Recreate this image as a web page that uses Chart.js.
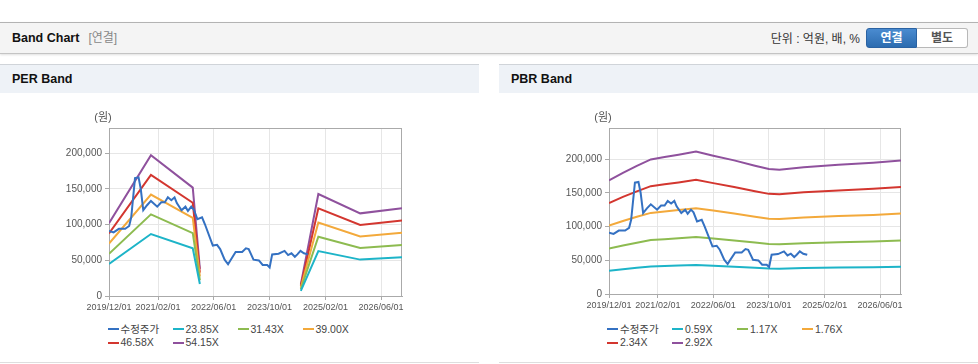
<!DOCTYPE html>
<html>
<head>
<meta charset="utf-8">
<script src="https://cdn.jsdelivr.net/npm/chart.js@4"></script>
<style>
  body { margin: 0; width: 978px; height: 364px; background: #fff; position: relative; overflow: hidden;
         font-family: "Liberation Sans", "Noto Sans CJK KR", sans-serif; }
  .top { position: absolute; left: 0; top: 22px; width: 978px; height: 30px; background: #f4f4f4;
         border-top: 1px solid #b3b3b3; border-bottom: 1px solid #c4c4c4; box-shadow: 0 1px 2px rgba(0,0,0,0.12); }
  .top .title { position: absolute; left: 12px; top: 0; line-height: 31px; font-size: 12.5px; font-weight: bold; color: #111; }
  .top .title span { font-weight: normal; color: #888; margin-left: 9px; font-size: 12px; }
  .top .unit { position: absolute; right: 118px; top: 0; line-height: 32px; font-size: 12px; color: #333; }
  .btn { position: absolute; top: 5px; width: 51px; height: 20px; box-sizing: border-box; text-align: center;
         line-height: 18px; font-size: 12px; font-weight: bold; }
  .btn.on { left: 866px; background: linear-gradient(#4a8bd0, #2c6cb0); border: 1px solid #2a62a2; color: #fff; border-radius: 3px 0 0 3px; }
  .btn.off { left: 917px; background: #fff; border: 1px solid #b8b8b8; border-left: none; color: #555; border-radius: 0 3px 3px 0; }
  .ph { position: absolute; top: 64px; width: 479px; height: 28px; background: #eef2f7; border-top: 1px solid #d0d4d9;
        font-size: 12.5px; font-weight: bold; color: #111; line-height: 29px; box-sizing: content-box; }
  .ph span { margin-left: 12px; }
  .pb { position: absolute; top: 362px; width: 479px; height: 0; border-top: 1px solid #dedede; }
  canvas { position: absolute; top: 95px; }
  .legend { position: absolute; top: 323px; width: 270px; font-size: 10.5px; color: #444; }
  .legend .item { display: inline-block; width: 65px; height: 13.4px; line-height: 13.4px; white-space: nowrap; }
  .legend .mk { display: inline-block; width: 11px; height: 2px; vertical-align: middle; margin-right: 2px; position: relative; top: -1px; }
</style>
</head>
<body>
<div class="top">
  <div class="title">Band Chart<span>[연결]</span></div>
  <div class="unit">단위 : 억원, 배, %</div>
  <div class="btn on">연결</div>
  <div class="btn off">별도</div>
</div>
<div class="ph" style="left:0"><span>PER Band</span></div>
<div class="ph" style="left:499px"><span>PBR Band</span></div>
<div class="pb" style="left:0"></div>
<div class="pb" style="left:499px"></div>
<canvas id="per" width="479" height="225" style="left:0"></canvas>
<canvas id="pbr" width="489" height="225" style="left:489px"></canvas>
<div class="legend" id="perLegend" style="left:107.5px"></div>
<div class="legend" id="pbrLegend" style="left:607px"></div>
<script>
const xTickLabels = ['2019/12/01', '2021/02/01', '2022/06/01', '2023/10/01', '2025/02/01', '2026/06/01'];
const xStart = '2019/12/01';
const xEnd = '2026/12/01';
const yTicks = [0, 50000, 100000, 150000, 200000];

// 수정주가
const priceDates = ['2019/12/01', '2020/01/10', '2020/02/25', '2020/04/20', '2020/05/25', '2020/06/12', '2020/07/15',
  '2020/08/15', '2020/09/03', '2020/09/25', '2020/10/28', '2020/12/01', '2021/01/25', '2021/03/01', '2021/04/01',
  '2021/04/28', '2021/05/28', '2021/06/25', '2021/07/15', '2021/08/25', '2021/09/28', '2021/10/20', '2021/11/18',
  '2021/12/10', '2022/01/10', '2022/02/20', '2022/03/18', '2022/05/25', '2022/07/01', '2022/07/28', '2022/09/05',
  '2022/10/05', '2022/10/25', '2022/12/10', '2023/02/05', '2023/03/10', '2023/04/03', '2023/05/15', '2023/07/01',
  '2023/08/03', '2023/09/12', '2023/10/03', '2023/10/25', '2023/12/20', '2024/02/10', '2024/03/12', '2024/04/10',
  '2024/05/10', '2024/06/01', '2024/06/28', '2024/07/28', '2024/09/01'];
const priceValues = [91000, 89000, 94000, 94000, 98000, 110000, 165000,
  166000, 150000, 120000, 127000, 133000, 125000, 131000, 131000,
  138000, 134000, 138000, 130000, 120000, 125000, 119000, 125000,
  121000, 107500, 110000, 100000, 70500, 71500, 65600, 50800,
  44400, 49800, 61600, 61600, 66600, 65600, 50800, 49800,
  43400, 43400, 40000, 58200, 59200, 63100, 57200, 59700,
  54800, 58200, 63100, 59700, 58200];

// PER band
const perLabels = ['23.85X', '31.43X', '39.00X', '46.58X', '54.15X'];
const perDates = ['2019/12/01', '2020/12/01', '2021/12/01', '2022/02/01', '2023/01/01', '2024/07/01', '2024/12/01', '2025/12/01', '2026/12/01'];
const per2385 = [44800, 86700, 66800, 16700, null, 7200, 62800, 50900, 54100];
const per3143 = [59100, 114200, 88000, 22000, null, 9400, 82800, 67100, 71300];
const per3900 = [73300, 141800, 109200, 27300, null, 11700, 102800, 83300, 88500];
const per4658 = [87600, 169300, 130400, 32600, null, 14000, 122700, 99400, 105700];
const per5415 = [101800, 196800, 151600, 37900, null, 16200, 142700, 115600, 122900];

// PBR band
const pbrLabels = ['0.59X', '1.17X', '1.76X', '2.34X', '2.92X'];
const pbrDates = ['2019/12/01', '2020/04/01', '2020/08/01', '2020/12/01', '2021/04/01', '2021/08/01', '2022/01/01', '2022/06/01',
  '2022/12/01', '2023/06/01', '2023/10/01', '2024/01/01', '2024/08/01', '2025/06/01', '2026/04/01', '2026/12/01'];
const pbr059 = [34400, 36700, 38800, 40700, 41400, 42100, 43100, 41800, 40400, 38800, 37800, 37600, 38400, 39100, 39700, 40400];
const pbr117 = [67400, 72000, 76100, 79900, 81300, 82700, 84600, 82100, 79300, 76200, 74200, 73800, 75300, 76800, 77900, 79200];
const pbr176 = [101400, 108200, 114400, 120200, 122300, 124400, 127200, 123600, 119300, 114600, 111600, 111100, 113300, 115500, 117200, 119200];
const pbr234 = [134800, 143900, 152100, 159800, 162600, 165400, 169200, 164300, 158700, 152300, 148400, 147700, 150700, 153500, 155800, 158400];
const pbr292 = [168200, 179600, 189800, 199400, 202900, 206400, 211100, 205000, 198000, 190100, 185100, 184300, 188000, 191600, 194500, 197700];

const FONT = '"Liberation Sans", "Noto Sans CJK KR", sans-serif';
const priceColor = '#3471c2';
const bandColors = ['#1db4c8', '#8dbb50', '#f3a93b', '#d3362f', '#8f519d'];

const toTime = (s) => {
  const [y, m, d] = s.split('/').map(Number);
  return Date.UTC(y, m - 1, d);
};
const points = (dates, values) => dates.map((d, i) => ({ x: toTime(d), y: values[i] }));

// frame round the plot + (원) title
const frame = {
  id: 'frame',
  beforeDatasetsDraw(chart) {
    const { ctx, chartArea: a } = chart;
    ctx.save();
    ctx.strokeStyle = '#aaa';
    ctx.lineWidth = 1;
    ctx.strokeRect(Math.round(a.left) + 0.5, Math.round(a.top) + 0.5, Math.round(a.right - a.left) - 1, Math.round(a.bottom - a.top));
    ctx.fillStyle = '#555';
    ctx.font = '11px ' + FONT;
    ctx.textAlign = 'center';
    ctx.textBaseline = 'middle';
    ctx.fillText('(원)', a.left - 6, a.top - 10.5);
    ctx.restore();
  }
};

const makeChart = (id, legendId, bandDates, bands, labels, yMax, yWidth, padBottom) => {
  const datasets = [{ label: '수정주가', data: points(priceDates, priceValues), borderColor: priceColor }];
  bands.forEach((b, i) => {
    datasets.push({ label: labels[i], data: points(bandDates, b), borderColor: bandColors[i] });
  });

  const chart = new Chart(document.getElementById(id), {
    type: 'line',
    data: { datasets },
    options: {
      responsive: false,
      animation: false,
      layout: { padding: { left: 0, right: 77, top: 33, bottom: padBottom } },
      plugins: { legend: { display: false }, tooltip: { enabled: false } },
      elements: { point: { radius: 0 }, line: { borderWidth: 2, tension: 0 } },
      scales: {
        x: {
          type: 'linear',
          min: toTime(xStart),
          max: toTime(xEnd),
          afterBuildTicks: (ax) => { ax.ticks = xTickLabels.map((s) => ({ value: toTime(s) })); },
          afterFit: (ax) => { ax.height = 20; },
          ticks: {
            autoSkip: false, maxRotation: 0, padding: 2, color: '#555',
            font: { family: FONT, size: 9 },
            callback: (v, i) => xTickLabels[i],
          },
          grid: { color: '#e6e6e6', tickColor: '#aaa', tickLength: 4 },
          border: { color: '#aaa' },
        },
        y: {
          min: 0,
          max: yMax,
          afterBuildTicks: (ax) => { ax.ticks = yTicks.map((v) => ({ value: v })); },
          afterFit: (ax) => { ax.width = yWidth; },
          ticks: {
            padding: 3, color: '#555',
            font: { family: FONT, size: 10 },
            callback: (v) => v.toLocaleString('en-US'),
          },
          grid: { color: '#e6e6e6', tickColor: '#aaa', tickLength: 4 },
          border: { color: '#aaa' },
        },
      },
    },
    plugins: [frame],
  });

  const legend = document.getElementById(legendId);
  legend.innerHTML = chart.data.datasets.map((ds) =>
    `<span class="item"><span class="mk" style="background:${ds.borderColor}"></span>${ds.label}</span>`
  ).join('');
  return chart;
};

makeChart('per', 'perLegend', perDates, [per2385, per3143, per3900, per4658, per5415], perLabels, 235000, 109, 4);
makeChart('pbr', 'pbrLegend', pbrDates, [pbr059, pbr117, pbr176, pbr234, pbr292], pbrLabels, 246000, 120, 6);
</script>
</body>
</html>
